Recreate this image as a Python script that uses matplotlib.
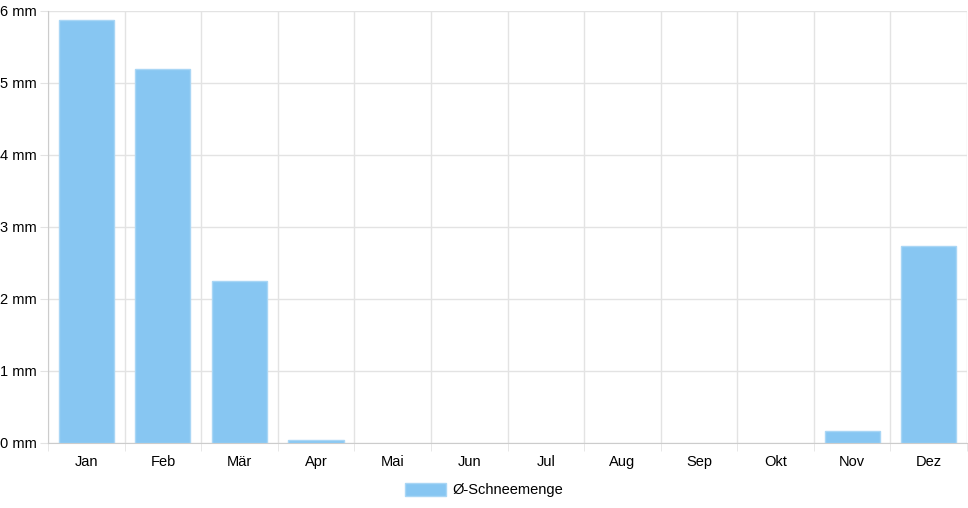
import numpy as np
import matplotlib.pyplot as plt
from matplotlib.patches import Patch

plt.rcParams['font.family'] = ['Liberation Sans', 'DejaVu Sans']

months = ['Jan', 'Feb', 'Mär', 'Apr', 'Mai', 'Jun', 'Jul', 'Aug', 'Sep', 'Okt', 'Nov', 'Dez']
snow = [5.87, 5.19, 2.25, 0.04, 0, 0, 0, 0, 0, 0, 0.17, 2.74]
y_ticks = [0, 1, 2, 3, 4, 5, 6]
y_labels = ['%d mm' % v for v in y_ticks]

bar_color = '#87c6f2'
edge_color = '#a9d6f5'
grid_color = '#e3e3e3'

fig = plt.figure(figsize=(9.68, 5.08), dpi=100)
W, H = 968, 508
ax = fig.add_axes([48 / W, (H - 443) / H, (967 - 48) / W, (443 - 11) / H])

x = np.arange(len(months))
lws = [1 if v > 0 else 0 for v in snow]
ax.bar(x, snow, width=0.72, color=bar_color, edgecolor=edge_color, linewidth=lws, zorder=3)

ax.set_xlim(-0.5, len(months) - 0.5)
ax.set_ylim(0, 6)

# gridlines at category boundaries
for b in np.arange(-0.5, len(months) + 0.5, 1):
    ax.axvline(b, color=grid_color, lw=1, zorder=1)
ax.set_yticks(y_ticks)
ax.set_yticklabels(y_labels, fontsize=10.5)
ax.yaxis.grid(True, color=grid_color, lw=1, zorder=1)
ax.tick_params(axis='y', length=6, color=grid_color, pad=2)

ax.set_xticks(x)
ax.set_xticklabels(months, fontsize=10.5)
ax.tick_params(axis='x', length=0, pad=8.5)
ax.set_xticks(np.arange(-0.5, len(months) + 0.5, 1), minor=True)
ax.tick_params(axis='x', which='minor', length=6, color=grid_color)

for s in ['top', 'right']:
    ax.spines[s].set_visible(False)
ax.spines['left'].set_color('#cccccc')
ax.spines['bottom'].set_color('#cccccc')

fig.legend(handles=[Patch(facecolor=bar_color, edgecolor=edge_color)], labels=['Ø-Schneemenge'],
           loc='center', bbox_to_anchor=(484 / W, 1 - 490 / H), frameon=False,
           fontsize=10.5, handlelength=2.8, handleheight=1.0, handletextpad=0.4)

fig.savefig('out.png', dpi=100)
